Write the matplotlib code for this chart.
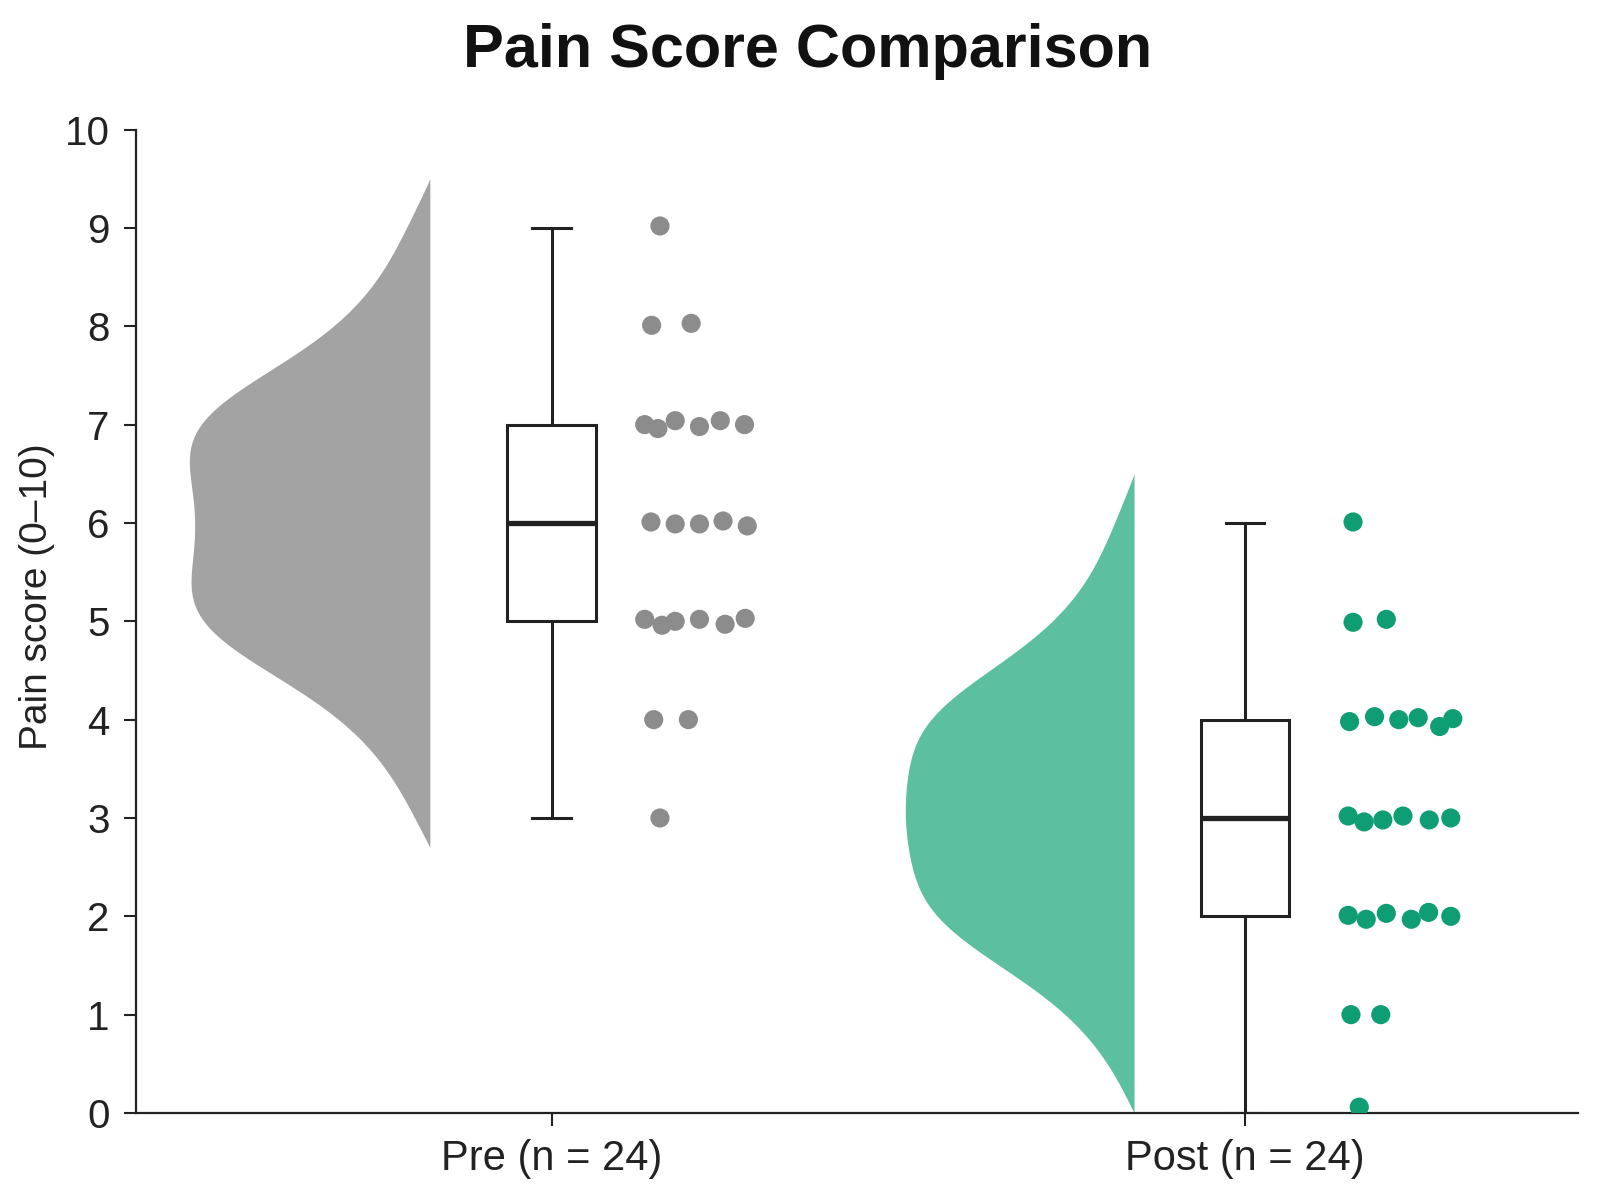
import numpy as np
import matplotlib
matplotlib.use("Agg")
import matplotlib.pyplot as plt

plt.rcParams['font.family'] = ['Liberation Sans', 'DejaVu Sans']

groups = ["Pre (n = 24)", "Post (n = 24)"]
positions = [0, 1]

# scores as plotted (rows of points)
pre_scores = [9, 8, 8, 7, 7, 7, 7, 7, 7, 6, 6, 6, 6, 6, 5, 5, 5, 5, 5, 5, 4, 4, 3]
post_scores = [6, 5, 5, 4, 4, 4, 4, 4, 4, 3, 3, 3, 3, 3, 3, 2, 2, 2, 2, 2, 2, 1, 1, 0]

# offsets of the dots to the right of each box
pre_dx = [0.156, 0.144, 0.201, 0.134, 0.153, 0.178, 0.213, 0.243, 0.278,
          0.143, 0.178, 0.213, 0.247, 0.282,
          0.134, 0.159, 0.178, 0.213, 0.250, 0.279,
          0.147, 0.197, 0.156]
pre_dy = [0.02, 0.01, 0.03, 0.0, -0.04, 0.04, -0.02, 0.04, 0.0,
          0.01, -0.01, -0.01, 0.02, -0.03,
          0.02, -0.04, 0.0, 0.02, -0.03, 0.03,
          0.0, 0.0, 0.0]
post_dx = [0.156, 0.156, 0.204,
           0.151, 0.187, 0.222, 0.250, 0.281, 0.300,
           0.149, 0.172, 0.199, 0.228, 0.266, 0.297,
           0.149, 0.175, 0.204, 0.240, 0.265, 0.297,
           0.153, 0.196, 0.165]
post_dy = [0.01, -0.01, 0.02,
           -0.02, 0.03, 0.0, 0.02, -0.07, 0.01,
           0.02, -0.04, -0.02, 0.02, -0.02, 0.0,
           0.01, -0.03, 0.03, -0.03, 0.04, 0.0,
           0.0, 0.0, 0.06]

violin_colors = ["#a3a3a3", "#5bbfa0"]
dot_colors = ["#8c8c8c", "#0f9e74"]
box_color = "#222222"
violin_edge = [-0.176, -0.160]
violin_width = [0.347, 0.33]


def kde(data, grid, bw):
    data = np.asarray(data, dtype=float)
    z = (grid[:, None] - data[None, :]) / bw
    return np.exp(-0.5 * z ** 2).sum(axis=1)


fig = plt.figure(figsize=(16, 12), dpi=100)
ax = fig.add_axes([0.085, 0.0725, 0.901, 0.8195])

datasets = [pre_scores, post_scores]
dxs = [pre_dx, post_dx]
dys = [pre_dy, post_dy]

for i, (pos, d) in enumerate(zip(positions, datasets)):
    lo = max(min(d) - 0.3, 0)
    hi = max(d) + 0.5
    grid = np.linspace(lo, hi, 400)
    dens = kde(d, grid, 0.6)
    # taper to zero at both ends of the cloud
    dens = dens - np.interp(grid, [lo, hi], [dens[0], dens[-1]])
    dens = np.clip(dens, 0, None)
    dens = dens / dens.max() * violin_width[i]
    edge = pos + violin_edge[i]
    ax.fill_betweenx(grid, edge - dens, edge, color=violin_colors[i], lw=0, zorder=1)

    ax.scatter(pos + np.array(dxs[i]), np.array(d) + np.array(dys[i]),
               s=190, color=dot_colors[i], edgecolors='none', zorder=3)

ax.boxplot(datasets, positions=positions, widths=0.128, whis=1.5,
           showfliers=False, patch_artist=True, capwidths=0.056,
           boxprops=dict(facecolor='white', edgecolor=box_color, linewidth=2.2),
           whiskerprops=dict(color=box_color, linewidth=2.2),
           capprops=dict(color=box_color, linewidth=2.2),
           medianprops=dict(color=box_color, linewidth=3.8),
           zorder=2)

ax.set_xlim(-0.6, 1.48)
ax.set_ylim(0, 10)
ax.set_yticks(range(0, 11))
ax.set_xticks(positions)
ax.set_xticklabels(groups)
ax.tick_params(axis='y', labelsize=29, length=9, width=1.5, direction='out',
               colors='#222222', pad=10)
ax.tick_params(axis='x', labelsize=30, length=9, width=1.5, direction='out',
               colors='#222222', pad=10)
ax.set_ylabel("Pain score (0–10)", fontsize=28, color='#222222')
ax.yaxis.set_label_coords(-0.056, 0.525)
for s in ['top', 'right']:
    ax.spines[s].set_visible(False)
for s in ['left', 'bottom']:
    ax.spines[s].set_linewidth(1.6)
    ax.spines[s].set_color('#222222')

fig.text(0.505, 0.957, "Pain Score Comparison", fontsize=44, fontweight='bold',
         ha='center', va='center', color='#111111')

fig.savefig("out.png", dpi=100)
